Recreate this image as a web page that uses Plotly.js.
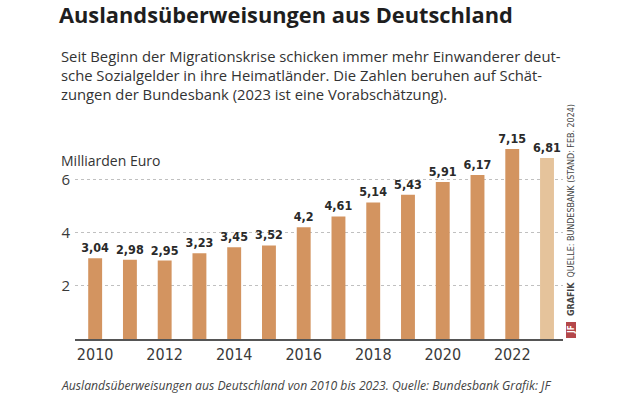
<!DOCTYPE html>
<html><head><meta charset="utf-8">
<script src="https://cdn.plot.ly/plotly-3.0.1.min.js"></script>
<style>html,body{margin:0;padding:0;background:#fff}</style>
</head><body><div id="c" style="width:620px;height:396px"></div>
<script>
const years = [2010,2011,2012,2013,2014,2015,2016,2017,2018,2019,2020,2021,2022,2023];
const values = [3.04,2.98,2.95,3.23,3.45,3.52,4.2,4.61,5.14,5.43,5.91,6.17,7.15,6.81];
const labels = values.map(v => String(v).replace('.', ','));
const xTicks = [2010,2012,2014,2016,2018,2020,2022];
const yTicks = [2,4,6];
const colors = years.map(y => y === 2023 ? '#e5c39b' : '#d39460');

const L = 75, R = 563, T = 137, B = 339, W = 620, H = 396;
const px = x => (x - L) / (R - L);
const py = y => (B - y) / (B - T);
const narrow = 'Liberation Sans Narrow, DejaVu Sans Condensed, sans-serif';

const data = [{
  type: 'bar', x: years, y: values, text: labels,
  textposition: 'outside', cliponaxis: false, constraintext: 'none',
  textfont: {family: narrow, size: 12.5, color: '#2a2a2a', weight: 700},
  marker: {color: colors}, width: 0.4, hoverinfo: 'skip'
}];

const layout = {
  width: W, height: H, margin: {l: L, r: W - R, t: T, b: H - B},
  paper_bgcolor: '#fff', plot_bgcolor: '#fff', showlegend: false,
  font: {family: 'Open Sans, sans-serif', color: '#333'},
  title: {text: '<b>Auslandsüberweisungen aus Deutschland</b>', xref: 'container', yref: 'container',
    x: 59 / W, xanchor: 'left', y: 1 - 8 / H, yanchor: 'top',
    font: {family: 'Open Sans, sans-serif', size: 21.8, color: '#1e1e1e'}},
  xaxis: {range: [2009.42, 2023.46], tickvals: xTicks, ticktext: xTicks.map(String),
    showgrid: false, zeroline: false, showline: true, linecolor: '#555', linewidth: 1.5,
    ticks: '', tickfont: {family: narrow, size: 16, color: '#3a3a3a'}},
  yaxis: {range: [0, 7.6], tickvals: yTicks, ticktext: yTicks.map(String),
    showgrid: true, gridcolor: '#c0c0c0', griddash: 'dot', gridwidth: 1, zeroline: false,
    ticks: '', ticklabelstandoff: 4,
    tickfont: {family: 'Open Sans, sans-serif', size: 15, color: '#3a3a3a'}},
  annotations: [
    {xref: 'paper', yref: 'paper', x: px(59), y: py(44), xanchor: 'left', yanchor: 'top', align: 'left', showarrow: false,
     text: 'Seit Beginn der Migrationskrise schicken immer mehr Einwanderer deut-<br>sche Sozialgelder in ihre Heimatländer. Die Zahlen beruhen auf Schät-<br>zungen der Bundesbank (2023 ist eine Vorabschätzung).',
     font: {family: 'Open Sans, sans-serif', size: 14.8, color: '#333'}},
    {xref: 'paper', yref: 'paper', x: px(59), y: py(160), xanchor: 'left', yanchor: 'middle', showarrow: false,
     text: 'Milliarden Euro', font: {family: 'Open Sans, sans-serif', size: 14, color: '#333'}},
    {xref: 'paper', yref: 'paper', x: px(571), y: py(318), xanchor: 'center', yanchor: 'bottom', textangle: -90, showarrow: false,
     text: '<b>GRAFIK</b>  QUELLE: BUNDESBANK (STAND: FEB. 2024)',
     font: {family: narrow, size: 8.9, color: '#444'}},
    {xref: 'paper', yref: 'paper', x: px(571), y: py(330), xanchor: 'center', yanchor: 'middle', textangle: -90, showarrow: false,
     text: '<b>JF</b>', font: {family: narrow, size: 8, color: '#fff'}},
    {xref: 'paper', yref: 'paper', x: px(59), y: py(385), xanchor: 'left', yanchor: 'middle', showarrow: false,
     text: '<i>Auslandsüberweisungen aus Deutschland von 2010 bis 2023. Quelle: Bundesbank Grafik: JF</i>',
     font: {family: 'Open Sans, sans-serif', size: 12.2, color: '#444'}}
  ],
  shapes: [
    {type: 'rect', xref: 'paper', yref: 'paper', x0: px(566), x1: px(576), y0: py(338), y1: py(322),
     fillcolor: '#b4474a', line: {width: 0}}
  ]
};
Plotly.newPlot('c', data, layout, {staticPlot: true, displayModeBar: false});
</script></body></html>
